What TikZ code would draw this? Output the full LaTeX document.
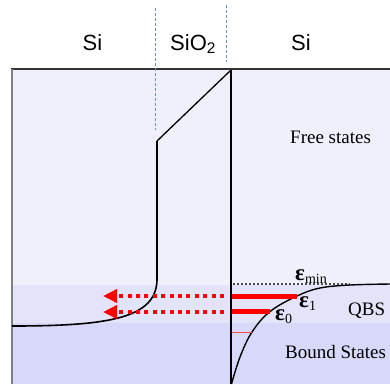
\documentclass[tikz,border=0pt]{standalone}
\usepackage{fontspec}
\setmainfont{Liberation Serif}
\setsansfont{Liberation Sans}
\usetikzlibrary{arrows.meta}
\definecolor{bgtop}{RGB}{240,240,253}
\definecolor{bgband}{RGB}{227,227,250}
\definecolor{bgbot}{RGB}{216,216,250}
\definecolor{ifline}{RGB}{105,150,175}
\definecolor{qred}{RGB}{255,0,0}
\newcommand{\epsl}[1]{{\fontsize{23}{24}\selectfont\textbf{ε}}\raisebox{-3pt}{\fontsize{14}{15}\selectfont #1}}
\tikzset{
  region/.style={font=\fontsize{22}{26}\sffamily, anchor=base, inner sep=0pt},
  lbl/.style={font=\fontsize{19}{22}\selectfont, anchor=base west, inner sep=0pt},
  band/.style={line width=1.6pt, black},
  ifdash/.style={ifline, line width=0.8pt, dash pattern=on 3pt off 2pt},
  levelbar/.style={qred, line width=5pt},
  tunnel/.style={qred, line width=4pt, dash pattern=on 4pt off 4.4pt, -{Triangle[length=14pt,width=13pt]}},
}
\begin{document}
\begin{tikzpicture}[x=1pt,y=-1pt]
\useasboundingbox (0,0) rectangle (390,384);
% backgrounds
\fill[bgtop] (12,69) rectangle (390,285);
\fill[bgband] (12,285) rectangle (390,323);
\fill[bgbot] (12,323) rectangle (390,384);
% frame
\draw[gray!40!black, line width=2pt] (11,69) -- (390,69);
\draw[gray, line width=2pt] (12,69) -- (12,384);
% interface dashed lines
\coordinate (d1a) at (155.5,8); \coordinate (d1b) at (155.5,130);
\coordinate (d2a) at (226,5); \coordinate (d2b) at (226,62);
\draw[ifdash] (d1a) -- (d1b);
\draw[ifdash] (d2a) -- (d2b);
% region labels
\node[region] (si1) at (92.5,50) {Si};
\node[region, anchor=base west] (sio2) at (170,50) {SiO\textsubscript{2}};
\node[region] (si2) at (301,50) {Si};
% band edge
\coordinate (L0) at (12,326);
\coordinate (L1) at (157,280);
\coordinate (L2) at (157,141);
\coordinate (L3) at (231,70);
\coordinate (L4) at (231,384);
\draw[band, line join=round] (L0) .. controls (110,326) and (156,318) .. (L1) -- (L2);
\draw[band, line width=1.3pt] (L2) -- (L3);
\draw[black, line width=1.2pt] (L3) -- (L4);
% emin dotted line
\coordinate (e1) at (233,284); \coordinate (e2) at (350,284);
\draw[gray!60!black, line width=1.2pt, dash pattern=on 1.5pt off 2.5pt] (e1) -- (e2);
% right curve
\draw[band, line width=1.4pt] plot[smooth, tension=0.6] coordinates {(231.5,384) (240,357) (252,332) (270,311.5) (297,296) (320,288) (350,285) (390,284)};
% levels
\coordinate (b1a) at (232,296.5); \coordinate (b1b) at (297,296.5);
\coordinate (b0a) at (232,311); \coordinate (b0b) at (270,311);
\coordinate (b2a) at (232,332); \coordinate (b2b) at (252,332);
\draw[levelbar] (b1a) -- (b1b);
\draw[levelbar] (b0a) -- (b0b);
\draw[qred!70, line width=0.9pt] (b2a) -- (b2b);
% tunnelling arrows
\coordinate (t1s) at (224,296); \coordinate (t1e) at (103,296);
\coordinate (t0s) at (224,312); \coordinate (t0e) at (103,312);
\draw[tunnel] (t1s) -- (t1e);
\draw[tunnel] (t0s) -- (t0e);
% labels
\node[lbl] (free) at (290,143) {Free states};
\node[lbl] (bound) at (285,358) {Bound States};
\node[lbl] (qbs) at (348,315) {QBS};
\node[lbl] (emin) at (295,280) {\epsl{min}};
\node[lbl] (eps1) at (299,307) {\epsl{1}};
\node[lbl] (eps0) at (275,320) {\epsl{0}};
\end{tikzpicture}
\end{document}
